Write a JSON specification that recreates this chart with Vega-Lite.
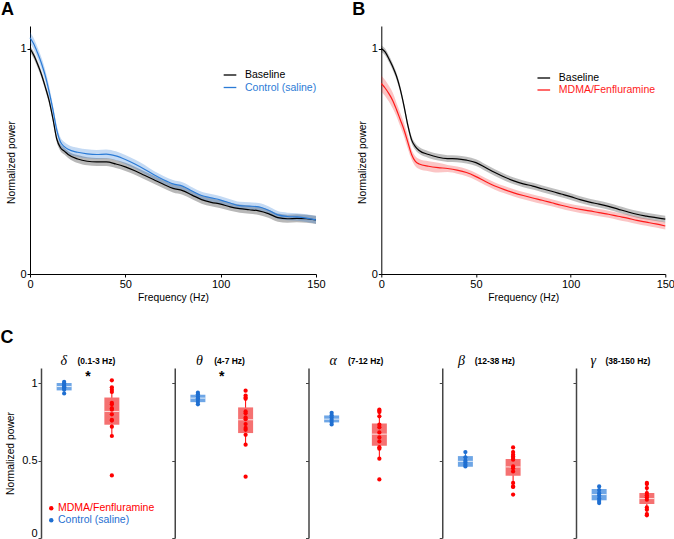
{
  "$schema": "https://vega.github.io/schema/vega-lite/v6.json",
  "background": "white",
  "padding": {"left": 0, "top": 1, "right": 0, "bottom": 0},
  "config": {
    "view": {"stroke": null},
    "font": "Liberation Sans",
    "axis": {"grid": false, "labelFontSize": 11, "titleFontSize": 10.3, "titleFontWeight": "normal", "tickSize": 3, "labelColor": "#000", "titleColor": "#000", "domainColor": "#000", "tickColor": "#000", "labelPadding": 1, "titlePadding": 3, "labelFlush": false, "format": "~f"},
    "legend": {"orient": "none", "title": null, "labelFontSize": 10.5, "padding": 0, "rowPadding": 0, "symbolOpacity": 1},
    "title": {"font": "Liberation Sans", "fontSize": 18, "fontWeight": "bold", "anchor": "start", "frame": "bounds", "baseline": "alphabetic", "color": "#000"}
  },
  "datasets": {
    "spectra": [
      {"p":"A","c":"Baseline","f":0,"m":1.000,"lo":0.985,"hi":1.015},
      {"p":"A","c":"Baseline","f":2,"m":0.970,"lo":0.955,"hi":0.985},
      {"p":"A","c":"Baseline","f":4,"m":0.930,"lo":0.915,"hi":0.945},
      {"p":"A","c":"Baseline","f":6,"m":0.885,"lo":0.870,"hi":0.900},
      {"p":"A","c":"Baseline","f":8,"m":0.830,"lo":0.815,"hi":0.845},
      {"p":"A","c":"Baseline","f":10,"m":0.770,"lo":0.755,"hi":0.785},
      {"p":"A","c":"Baseline","f":12,"m":0.690,"lo":0.675,"hi":0.705},
      {"p":"A","c":"Baseline","f":14,"m":0.600,"lo":0.585,"hi":0.615},
      {"p":"A","c":"Baseline","f":16,"m":0.560,"lo":0.545,"hi":0.575},
      {"p":"A","c":"Baseline","f":18,"m":0.545,"lo":0.530,"hi":0.560},
      {"p":"A","c":"Baseline","f":20,"m":0.530,"lo":0.515,"hi":0.545},
      {"p":"A","c":"Baseline","f":25,"m":0.510,"lo":0.492,"hi":0.528},
      {"p":"A","c":"Baseline","f":30,"m":0.500,"lo":0.482,"hi":0.518},
      {"p":"A","c":"Baseline","f":35,"m":0.497,"lo":0.479,"hi":0.515},
      {"p":"A","c":"Baseline","f":40,"m":0.497,"lo":0.479,"hi":0.515},
      {"p":"A","c":"Baseline","f":45,"m":0.488,"lo":0.470,"hi":0.506},
      {"p":"A","c":"Baseline","f":50,"m":0.475,"lo":0.457,"hi":0.493},
      {"p":"A","c":"Baseline","f":55,"m":0.458,"lo":0.440,"hi":0.476},
      {"p":"A","c":"Baseline","f":60,"m":0.438,"lo":0.420,"hi":0.456},
      {"p":"A","c":"Baseline","f":65,"m":0.418,"lo":0.400,"hi":0.436},
      {"p":"A","c":"Baseline","f":70,"m":0.398,"lo":0.380,"hi":0.416},
      {"p":"A","c":"Baseline","f":75,"m":0.380,"lo":0.362,"hi":0.398},
      {"p":"A","c":"Baseline","f":80,"m":0.370,"lo":0.352,"hi":0.388},
      {"p":"A","c":"Baseline","f":85,"m":0.350,"lo":0.332,"hi":0.368},
      {"p":"A","c":"Baseline","f":90,"m":0.330,"lo":0.312,"hi":0.348},
      {"p":"A","c":"Baseline","f":95,"m":0.318,"lo":0.300,"hi":0.336},
      {"p":"A","c":"Baseline","f":100,"m":0.310,"lo":0.292,"hi":0.328},
      {"p":"A","c":"Baseline","f":105,"m":0.298,"lo":0.280,"hi":0.316},
      {"p":"A","c":"Baseline","f":110,"m":0.290,"lo":0.272,"hi":0.308},
      {"p":"A","c":"Baseline","f":115,"m":0.285,"lo":0.267,"hi":0.303},
      {"p":"A","c":"Baseline","f":120,"m":0.280,"lo":0.262,"hi":0.298},
      {"p":"A","c":"Baseline","f":125,"m":0.268,"lo":0.250,"hi":0.286},
      {"p":"A","c":"Baseline","f":130,"m":0.250,"lo":0.232,"hi":0.268},
      {"p":"A","c":"Baseline","f":135,"m":0.245,"lo":0.227,"hi":0.263},
      {"p":"A","c":"Baseline","f":140,"m":0.247,"lo":0.229,"hi":0.265},
      {"p":"A","c":"Baseline","f":145,"m":0.245,"lo":0.227,"hi":0.263},
      {"p":"A","c":"Baseline","f":150,"m":0.240,"lo":0.222,"hi":0.258},
      {"p":"A","c":"Control (saline)","f":0,"m":1.048,"lo":1.023,"hi":1.073},
      {"p":"A","c":"Control (saline)","f":2,"m":1.020,"lo":0.995,"hi":1.045},
      {"p":"A","c":"Control (saline)","f":4,"m":0.980,"lo":0.955,"hi":1.005},
      {"p":"A","c":"Control (saline)","f":6,"m":0.935,"lo":0.910,"hi":0.960},
      {"p":"A","c":"Control (saline)","f":8,"m":0.880,"lo":0.855,"hi":0.905},
      {"p":"A","c":"Control (saline)","f":10,"m":0.810,"lo":0.785,"hi":0.835},
      {"p":"A","c":"Control (saline)","f":12,"m":0.730,"lo":0.710,"hi":0.750},
      {"p":"A","c":"Control (saline)","f":14,"m":0.640,"lo":0.620,"hi":0.660},
      {"p":"A","c":"Control (saline)","f":16,"m":0.585,"lo":0.565,"hi":0.605},
      {"p":"A","c":"Control (saline)","f":18,"m":0.565,"lo":0.545,"hi":0.585},
      {"p":"A","c":"Control (saline)","f":20,"m":0.553,"lo":0.533,"hi":0.573},
      {"p":"A","c":"Control (saline)","f":25,"m":0.540,"lo":0.520,"hi":0.560},
      {"p":"A","c":"Control (saline)","f":30,"m":0.533,"lo":0.513,"hi":0.553},
      {"p":"A","c":"Control (saline)","f":35,"m":0.530,"lo":0.510,"hi":0.550},
      {"p":"A","c":"Control (saline)","f":40,"m":0.532,"lo":0.512,"hi":0.552},
      {"p":"A","c":"Control (saline)","f":45,"m":0.524,"lo":0.504,"hi":0.544},
      {"p":"A","c":"Control (saline)","f":50,"m":0.508,"lo":0.488,"hi":0.528},
      {"p":"A","c":"Control (saline)","f":55,"m":0.488,"lo":0.468,"hi":0.508},
      {"p":"A","c":"Control (saline)","f":60,"m":0.465,"lo":0.445,"hi":0.485},
      {"p":"A","c":"Control (saline)","f":65,"m":0.440,"lo":0.423,"hi":0.457},
      {"p":"A","c":"Control (saline)","f":70,"m":0.418,"lo":0.401,"hi":0.435},
      {"p":"A","c":"Control (saline)","f":75,"m":0.400,"lo":0.383,"hi":0.417},
      {"p":"A","c":"Control (saline)","f":80,"m":0.390,"lo":0.373,"hi":0.407},
      {"p":"A","c":"Control (saline)","f":85,"m":0.368,"lo":0.351,"hi":0.385},
      {"p":"A","c":"Control (saline)","f":90,"m":0.348,"lo":0.331,"hi":0.365},
      {"p":"A","c":"Control (saline)","f":95,"m":0.338,"lo":0.321,"hi":0.355},
      {"p":"A","c":"Control (saline)","f":100,"m":0.328,"lo":0.311,"hi":0.345},
      {"p":"A","c":"Control (saline)","f":105,"m":0.315,"lo":0.298,"hi":0.332},
      {"p":"A","c":"Control (saline)","f":110,"m":0.303,"lo":0.286,"hi":0.320},
      {"p":"A","c":"Control (saline)","f":115,"m":0.301,"lo":0.284,"hi":0.318},
      {"p":"A","c":"Control (saline)","f":120,"m":0.298,"lo":0.281,"hi":0.315},
      {"p":"A","c":"Control (saline)","f":125,"m":0.283,"lo":0.266,"hi":0.300},
      {"p":"A","c":"Control (saline)","f":130,"m":0.262,"lo":0.245,"hi":0.279},
      {"p":"A","c":"Control (saline)","f":135,"m":0.255,"lo":0.238,"hi":0.272},
      {"p":"A","c":"Control (saline)","f":140,"m":0.253,"lo":0.236,"hi":0.270},
      {"p":"A","c":"Control (saline)","f":145,"m":0.248,"lo":0.231,"hi":0.265},
      {"p":"A","c":"Control (saline)","f":150,"m":0.240,"lo":0.223,"hi":0.257},
      {"p":"B","c":"Baseline","f":0,"m":1.000,"lo":0.985,"hi":1.015},
      {"p":"B","c":"Baseline","f":2,"m":0.985,"lo":0.970,"hi":1.000},
      {"p":"B","c":"Baseline","f":4,"m":0.955,"lo":0.940,"hi":0.970},
      {"p":"B","c":"Baseline","f":6,"m":0.920,"lo":0.905,"hi":0.935},
      {"p":"B","c":"Baseline","f":8,"m":0.878,"lo":0.863,"hi":0.893},
      {"p":"B","c":"Baseline","f":10,"m":0.820,"lo":0.805,"hi":0.835},
      {"p":"B","c":"Baseline","f":12,"m":0.745,"lo":0.730,"hi":0.760},
      {"p":"B","c":"Baseline","f":14,"m":0.660,"lo":0.645,"hi":0.675},
      {"p":"B","c":"Baseline","f":16,"m":0.595,"lo":0.580,"hi":0.610},
      {"p":"B","c":"Baseline","f":18,"m":0.565,"lo":0.550,"hi":0.580},
      {"p":"B","c":"Baseline","f":20,"m":0.548,"lo":0.533,"hi":0.563},
      {"p":"B","c":"Baseline","f":25,"m":0.530,"lo":0.515,"hi":0.545},
      {"p":"B","c":"Baseline","f":30,"m":0.518,"lo":0.503,"hi":0.533},
      {"p":"B","c":"Baseline","f":35,"m":0.512,"lo":0.497,"hi":0.527},
      {"p":"B","c":"Baseline","f":40,"m":0.511,"lo":0.496,"hi":0.526},
      {"p":"B","c":"Baseline","f":45,"m":0.505,"lo":0.490,"hi":0.520},
      {"p":"B","c":"Baseline","f":50,"m":0.494,"lo":0.479,"hi":0.509},
      {"p":"B","c":"Baseline","f":55,"m":0.472,"lo":0.457,"hi":0.487},
      {"p":"B","c":"Baseline","f":60,"m":0.450,"lo":0.435,"hi":0.465},
      {"p":"B","c":"Baseline","f":65,"m":0.430,"lo":0.415,"hi":0.445},
      {"p":"B","c":"Baseline","f":70,"m":0.413,"lo":0.398,"hi":0.428},
      {"p":"B","c":"Baseline","f":75,"m":0.400,"lo":0.385,"hi":0.415},
      {"p":"B","c":"Baseline","f":80,"m":0.390,"lo":0.375,"hi":0.405},
      {"p":"B","c":"Baseline","f":85,"m":0.378,"lo":0.363,"hi":0.393},
      {"p":"B","c":"Baseline","f":90,"m":0.367,"lo":0.352,"hi":0.382},
      {"p":"B","c":"Baseline","f":95,"m":0.355,"lo":0.340,"hi":0.370},
      {"p":"B","c":"Baseline","f":100,"m":0.343,"lo":0.328,"hi":0.358},
      {"p":"B","c":"Baseline","f":105,"m":0.330,"lo":0.315,"hi":0.345},
      {"p":"B","c":"Baseline","f":110,"m":0.319,"lo":0.304,"hi":0.334},
      {"p":"B","c":"Baseline","f":115,"m":0.310,"lo":0.295,"hi":0.325},
      {"p":"B","c":"Baseline","f":120,"m":0.300,"lo":0.285,"hi":0.315},
      {"p":"B","c":"Baseline","f":125,"m":0.288,"lo":0.273,"hi":0.303},
      {"p":"B","c":"Baseline","f":130,"m":0.276,"lo":0.261,"hi":0.291},
      {"p":"B","c":"Baseline","f":135,"m":0.265,"lo":0.250,"hi":0.280},
      {"p":"B","c":"Baseline","f":140,"m":0.257,"lo":0.242,"hi":0.272},
      {"p":"B","c":"Baseline","f":145,"m":0.250,"lo":0.235,"hi":0.265},
      {"p":"B","c":"Baseline","f":150,"m":0.243,"lo":0.228,"hi":0.258},
      {"p":"B","c":"MDMA/Fenfluramine","f":0,"m":0.845,"lo":0.810,"hi":0.880},
      {"p":"B","c":"MDMA/Fenfluramine","f":2,"m":0.825,"lo":0.790,"hi":0.860},
      {"p":"B","c":"MDMA/Fenfluramine","f":4,"m":0.800,"lo":0.765,"hi":0.835},
      {"p":"B","c":"MDMA/Fenfluramine","f":6,"m":0.770,"lo":0.735,"hi":0.805},
      {"p":"B","c":"MDMA/Fenfluramine","f":8,"m":0.730,"lo":0.700,"hi":0.760},
      {"p":"B","c":"MDMA/Fenfluramine","f":10,"m":0.685,"lo":0.655,"hi":0.715},
      {"p":"B","c":"MDMA/Fenfluramine","f":12,"m":0.640,"lo":0.610,"hi":0.670},
      {"p":"B","c":"MDMA/Fenfluramine","f":14,"m":0.585,"lo":0.555,"hi":0.615},
      {"p":"B","c":"MDMA/Fenfluramine","f":16,"m":0.530,"lo":0.508,"hi":0.552},
      {"p":"B","c":"MDMA/Fenfluramine","f":18,"m":0.500,"lo":0.478,"hi":0.522},
      {"p":"B","c":"MDMA/Fenfluramine","f":20,"m":0.488,"lo":0.466,"hi":0.510},
      {"p":"B","c":"MDMA/Fenfluramine","f":25,"m":0.478,"lo":0.456,"hi":0.500},
      {"p":"B","c":"MDMA/Fenfluramine","f":30,"m":0.472,"lo":0.450,"hi":0.494},
      {"p":"B","c":"MDMA/Fenfluramine","f":35,"m":0.468,"lo":0.452,"hi":0.484},
      {"p":"B","c":"MDMA/Fenfluramine","f":40,"m":0.461,"lo":0.445,"hi":0.477},
      {"p":"B","c":"MDMA/Fenfluramine","f":45,"m":0.450,"lo":0.434,"hi":0.466},
      {"p":"B","c":"MDMA/Fenfluramine","f":50,"m":0.432,"lo":0.416,"hi":0.448},
      {"p":"B","c":"MDMA/Fenfluramine","f":55,"m":0.410,"lo":0.394,"hi":0.426},
      {"p":"B","c":"MDMA/Fenfluramine","f":60,"m":0.390,"lo":0.374,"hi":0.406},
      {"p":"B","c":"MDMA/Fenfluramine","f":65,"m":0.374,"lo":0.358,"hi":0.390},
      {"p":"B","c":"MDMA/Fenfluramine","f":70,"m":0.360,"lo":0.344,"hi":0.376},
      {"p":"B","c":"MDMA/Fenfluramine","f":75,"m":0.348,"lo":0.332,"hi":0.364},
      {"p":"B","c":"MDMA/Fenfluramine","f":80,"m":0.337,"lo":0.321,"hi":0.353},
      {"p":"B","c":"MDMA/Fenfluramine","f":85,"m":0.327,"lo":0.311,"hi":0.343},
      {"p":"B","c":"MDMA/Fenfluramine","f":90,"m":0.316,"lo":0.300,"hi":0.332},
      {"p":"B","c":"MDMA/Fenfluramine","f":95,"m":0.305,"lo":0.289,"hi":0.321},
      {"p":"B","c":"MDMA/Fenfluramine","f":100,"m":0.295,"lo":0.279,"hi":0.311},
      {"p":"B","c":"MDMA/Fenfluramine","f":105,"m":0.287,"lo":0.271,"hi":0.303},
      {"p":"B","c":"MDMA/Fenfluramine","f":110,"m":0.280,"lo":0.264,"hi":0.296},
      {"p":"B","c":"MDMA/Fenfluramine","f":115,"m":0.272,"lo":0.256,"hi":0.288},
      {"p":"B","c":"MDMA/Fenfluramine","f":120,"m":0.265,"lo":0.249,"hi":0.281},
      {"p":"B","c":"MDMA/Fenfluramine","f":125,"m":0.256,"lo":0.240,"hi":0.272},
      {"p":"B","c":"MDMA/Fenfluramine","f":130,"m":0.248,"lo":0.232,"hi":0.264},
      {"p":"B","c":"MDMA/Fenfluramine","f":135,"m":0.238,"lo":0.222,"hi":0.254},
      {"p":"B","c":"MDMA/Fenfluramine","f":140,"m":0.230,"lo":0.214,"hi":0.246},
      {"p":"B","c":"MDMA/Fenfluramine","f":145,"m":0.222,"lo":0.206,"hi":0.238},
      {"p":"B","c":"MDMA/Fenfluramine","f":150,"m":0.213,"lo":0.197,"hi":0.229}
    ],
    "dots": [
      {"band":"delta","group":"Control (saline)","v":1.01},
      {"band":"delta","group":"Control (saline)","v":1.0},
      {"band":"delta","group":"Control (saline)","v":0.99},
      {"band":"delta","group":"Control (saline)","v":0.98},
      {"band":"delta","group":"Control (saline)","v":0.975},
      {"band":"delta","group":"Control (saline)","v":0.97},
      {"band":"delta","group":"Control (saline)","v":0.96},
      {"band":"delta","group":"Control (saline)","v":0.935},
      {"band":"delta","group":"MDMA/Fenfluramine","v":1.02},
      {"band":"delta","group":"MDMA/Fenfluramine","v":0.975},
      {"band":"delta","group":"MDMA/Fenfluramine","v":0.96},
      {"band":"delta","group":"MDMA/Fenfluramine","v":0.945},
      {"band":"delta","group":"MDMA/Fenfluramine","v":0.875},
      {"band":"delta","group":"MDMA/Fenfluramine","v":0.865},
      {"band":"delta","group":"MDMA/Fenfluramine","v":0.84},
      {"band":"delta","group":"MDMA/Fenfluramine","v":0.83},
      {"band":"delta","group":"MDMA/Fenfluramine","v":0.8},
      {"band":"delta","group":"MDMA/Fenfluramine","v":0.765},
      {"band":"delta","group":"MDMA/Fenfluramine","v":0.76},
      {"band":"delta","group":"MDMA/Fenfluramine","v":0.72},
      {"band":"delta","group":"MDMA/Fenfluramine","v":0.66},
      {"band":"delta","group":"MDMA/Fenfluramine","v":0.405},
      {"band":"theta","group":"Control (saline)","v":0.94},
      {"band":"theta","group":"Control (saline)","v":0.93},
      {"band":"theta","group":"Control (saline)","v":0.915},
      {"band":"theta","group":"Control (saline)","v":0.905},
      {"band":"theta","group":"Control (saline)","v":0.895},
      {"band":"theta","group":"Control (saline)","v":0.88},
      {"band":"theta","group":"Control (saline)","v":0.865},
      {"band":"theta","group":"MDMA/Fenfluramine","v":0.953},
      {"band":"theta","group":"MDMA/Fenfluramine","v":0.922},
      {"band":"theta","group":"MDMA/Fenfluramine","v":0.909},
      {"band":"theta","group":"MDMA/Fenfluramine","v":0.901},
      {"band":"theta","group":"MDMA/Fenfluramine","v":0.819},
      {"band":"theta","group":"MDMA/Fenfluramine","v":0.808},
      {"band":"theta","group":"MDMA/Fenfluramine","v":0.78},
      {"band":"theta","group":"MDMA/Fenfluramine","v":0.769},
      {"band":"theta","group":"MDMA/Fenfluramine","v":0.737},
      {"band":"theta","group":"MDMA/Fenfluramine","v":0.712},
      {"band":"theta","group":"MDMA/Fenfluramine","v":0.7},
      {"band":"theta","group":"MDMA/Fenfluramine","v":0.668},
      {"band":"theta","group":"MDMA/Fenfluramine","v":0.604},
      {"band":"theta","group":"MDMA/Fenfluramine","v":0.397},
      {"band":"alpha","group":"Control (saline)","v":0.81},
      {"band":"alpha","group":"Control (saline)","v":0.795},
      {"band":"alpha","group":"Control (saline)","v":0.78},
      {"band":"alpha","group":"Control (saline)","v":0.765},
      {"band":"alpha","group":"Control (saline)","v":0.75},
      {"band":"alpha","group":"Control (saline)","v":0.735},
      {"band":"alpha","group":"MDMA/Fenfluramine","v":0.83},
      {"band":"alpha","group":"MDMA/Fenfluramine","v":0.823},
      {"band":"alpha","group":"MDMA/Fenfluramine","v":0.815},
      {"band":"alpha","group":"MDMA/Fenfluramine","v":0.787},
      {"band":"alpha","group":"MDMA/Fenfluramine","v":0.733},
      {"band":"alpha","group":"MDMA/Fenfluramine","v":0.716},
      {"band":"alpha","group":"MDMA/Fenfluramine","v":0.683},
      {"band":"alpha","group":"MDMA/Fenfluramine","v":0.651},
      {"band":"alpha","group":"MDMA/Fenfluramine","v":0.625},
      {"band":"alpha","group":"MDMA/Fenfluramine","v":0.588},
      {"band":"alpha","group":"MDMA/Fenfluramine","v":0.578},
      {"band":"alpha","group":"MDMA/Fenfluramine","v":0.513},
      {"band":"alpha","group":"MDMA/Fenfluramine","v":0.379},
      {"band":"beta","group":"Control (saline)","v":0.556},
      {"band":"beta","group":"Control (saline)","v":0.522},
      {"band":"beta","group":"Control (saline)","v":0.5},
      {"band":"beta","group":"Control (saline)","v":0.489},
      {"band":"beta","group":"Control (saline)","v":0.474},
      {"band":"beta","group":"Control (saline)","v":0.463},
      {"band":"beta","group":"MDMA/Fenfluramine","v":0.586},
      {"band":"beta","group":"MDMA/Fenfluramine","v":0.556},
      {"band":"beta","group":"MDMA/Fenfluramine","v":0.539},
      {"band":"beta","group":"MDMA/Fenfluramine","v":0.528},
      {"band":"beta","group":"MDMA/Fenfluramine","v":0.517},
      {"band":"beta","group":"MDMA/Fenfluramine","v":0.507},
      {"band":"beta","group":"MDMA/Fenfluramine","v":0.463},
      {"band":"beta","group":"MDMA/Fenfluramine","v":0.452},
      {"band":"beta","group":"MDMA/Fenfluramine","v":0.431},
      {"band":"beta","group":"MDMA/Fenfluramine","v":0.356},
      {"band":"beta","group":"MDMA/Fenfluramine","v":0.334},
      {"band":"beta","group":"MDMA/Fenfluramine","v":0.33},
      {"band":"beta","group":"MDMA/Fenfluramine","v":0.281},
      {"band":"gamma","group":"Control (saline)","v":0.334},
      {"band":"gamma","group":"Control (saline)","v":0.31},
      {"band":"gamma","group":"Control (saline)","v":0.29},
      {"band":"gamma","group":"Control (saline)","v":0.275},
      {"band":"gamma","group":"Control (saline)","v":0.255},
      {"band":"gamma","group":"Control (saline)","v":0.24},
      {"band":"gamma","group":"Control (saline)","v":0.226},
      {"band":"gamma","group":"MDMA/Fenfluramine","v":0.356},
      {"band":"gamma","group":"MDMA/Fenfluramine","v":0.349},
      {"band":"gamma","group":"MDMA/Fenfluramine","v":0.323},
      {"band":"gamma","group":"MDMA/Fenfluramine","v":0.291},
      {"band":"gamma","group":"MDMA/Fenfluramine","v":0.276},
      {"band":"gamma","group":"MDMA/Fenfluramine","v":0.263},
      {"band":"gamma","group":"MDMA/Fenfluramine","v":0.248},
      {"band":"gamma","group":"MDMA/Fenfluramine","v":0.198},
      {"band":"gamma","group":"MDMA/Fenfluramine","v":0.183},
      {"band":"gamma","group":"MDMA/Fenfluramine","v":0.155},
      {"band":"gamma","group":"MDMA/Fenfluramine","v":0.147}
    ],
    "boxes": [
      {"band":"delta","group":"Control (saline)","q1":0.955,"med":0.98,"q3":1.003,"lo":0.935,"hi":1.01},
      {"band":"delta","group":"MDMA/Fenfluramine","q1":0.733,"med":0.819,"q3":0.909,"lo":0.66,"hi":0.96},
      {"band":"theta","group":"Control (saline)","q1":0.879,"med":0.905,"q3":0.927,"lo":0.865,"hi":0.94},
      {"band":"theta","group":"MDMA/Fenfluramine","q1":0.679,"med":0.765,"q3":0.845,"lo":0.604,"hi":0.92},
      {"band":"alpha","group":"Control (saline)","q1":0.748,"med":0.769,"q3":0.793,"lo":0.735,"hi":0.81},
      {"band":"alpha","group":"MDMA/Fenfluramine","q1":0.597,"med":0.672,"q3":0.741,"lo":0.513,"hi":0.83},
      {"band":"beta","group":"Control (saline)","q1":0.461,"med":0.496,"q3":0.53,"lo":0.463,"hi":0.556},
      {"band":"beta","group":"MDMA/Fenfluramine","q1":0.403,"med":0.46,"q3":0.511,"lo":0.334,"hi":0.57},
      {"band":"gamma","group":"Control (saline)","q1":0.244,"med":0.281,"q3":0.317,"lo":0.226,"hi":0.334},
      {"band":"gamma","group":"MDMA/Fenfluramine","q1":0.22,"med":0.255,"q3":0.291,"lo":0.147,"hi":0.356}
    ],
    "sig": [
      {"band":"delta","group":"sig","v":1.04,"label":"*"},
      {"band":"theta","group":"sig","v":1.04,"label":"*"}
    ]
  },
  "resolve": {"scale": {"x": "independent", "y": "independent", "fill": "independent", "stroke": "independent", "color": "independent"}, "legend": {"fill": "independent", "stroke": "independent", "color": "independent"}},
  "spacing": 25,
  "vconcat": [
    {
      "bounds": "flush",
      "spacing": 65.3,
      "resolve": {"scale": {"x": "independent", "y": "independent", "fill": "independent", "stroke": "independent", "color": "independent"}, "legend": {"fill": "independent", "stroke": "independent", "color": "independent"}},
      "hconcat": [
        {
          "width": 286, "height": 248,
          "title": {"text": "A", "dx": -5, "offset": 7},
          "data": {"name": "spectra"},
          "transform": [{"filter": "datum.p == 'A'"}],
          "encoding": {"x": {"field": "f", "type": "quantitative", "scale": {"domain": [0, 150], "nice": false}, "axis": {"values": [0, 50, 100, 150], "title": "Frequency (Hz)"}}},
          "layer": [
            {"mark": {"type": "area", "interpolate": "monotone", "opacity": 0.28},
             "encoding": {
               "y": {"field": "lo", "type": "quantitative", "scale": {"domain": [0, 1.1], "nice": false}, "axis": {"values": [0, 1], "title": "Normalized power", "titleX": -16, "titleY": 136, "titleBaseline": "alphabetic", "titleAngle": -90, "titleAlign": "center"}},
               "y2": {"field": "hi"},
               "fill": {"field": "c", "type": "nominal", "scale": {"domain": ["Baseline", "Control (saline)"], "range": ["#000000", "#2b7bd6"]}, "legend": null}}},
            {"transform": [{"filter": "datum.c == 'Baseline'"}],
             "mark": {"type": "line", "interpolate": "monotone", "strokeWidth": 1.2},
             "encoding": {
               "y": {"field": "m", "type": "quantitative", "scale": {"domain": [0, 1.1], "nice": false}, "axis": {"values": [0, 1], "title": "Normalized power", "titleX": -16, "titleY": 136, "titleBaseline": "alphabetic", "titleAngle": -90, "titleAlign": "center"}},
               "stroke": {"field": "c", "type": "nominal", "scale": {"domain": ["Baseline"], "range": ["#000000"]},
                 "legend": {"orient": "none", "legendX": 193, "legendY": 42, "symbolType": "stroke", "symbolSize": 160, "symbolStrokeWidth": 1.3, "labelOffset": 8, "labelColor": "#000000"}}}},
            {"transform": [{"filter": "datum.c == 'Control (saline)'"}],
             "mark": {"type": "line", "interpolate": "monotone", "strokeWidth": 1.2},
             "encoding": {
               "y": {"field": "m", "type": "quantitative", "scale": {"domain": [0, 1.1], "nice": false}, "axis": {"values": [0, 1], "title": "Normalized power", "titleX": -16, "titleY": 136, "titleBaseline": "alphabetic", "titleAngle": -90, "titleAlign": "center"}},
               "color": {"field": "c", "type": "nominal", "scale": {"domain": ["Control (saline)"], "range": ["#2b7bd6"]},
                 "legend": {"orient": "none", "legendX": 193, "legendY": 54.5, "symbolType": "stroke", "symbolSize": 160, "symbolStrokeWidth": 1.3, "labelOffset": 8, "labelColor": "#2b7bd6"}}}}
          ]
        },
        {
          "width": 284, "height": 248,
          "title": {"text": "B", "dx": -5, "offset": 7},
          "data": {"name": "spectra"},
          "transform": [{"filter": "datum.p == 'B'"}],
          "encoding": {"x": {"field": "f", "type": "quantitative", "scale": {"domain": [0, 150], "nice": false}, "axis": {"values": [0, 50, 100, 150], "title": "Frequency (Hz)"}}},
          "layer": [
            {"mark": {"type": "area", "interpolate": "monotone", "opacity": 0.25},
             "encoding": {
               "y": {"field": "lo", "type": "quantitative", "scale": {"domain": [0, 1.1], "nice": false}, "axis": {"values": [0, 1], "title": "Normalized power", "titleX": -16, "titleY": 136, "titleBaseline": "alphabetic", "titleAngle": -90, "titleAlign": "center"}},
               "y2": {"field": "hi"},
               "fill": {"field": "c", "type": "nominal", "scale": {"domain": ["Baseline", "MDMA/Fenfluramine"], "range": ["#000000", "#f01818"]}, "legend": null}}},
            {"transform": [{"filter": "datum.c == 'Baseline'"}],
             "mark": {"type": "line", "interpolate": "monotone", "strokeWidth": 1.2},
             "encoding": {
               "y": {"field": "m", "type": "quantitative", "scale": {"domain": [0, 1.1], "nice": false}, "axis": {"values": [0, 1], "title": "Normalized power", "titleX": -16, "titleY": 136, "titleBaseline": "alphabetic", "titleAngle": -90, "titleAlign": "center"}},
               "stroke": {"field": "c", "type": "nominal", "scale": {"domain": ["Baseline"], "range": ["#000000"]},
                 "legend": {"orient": "none", "legendX": 155.5, "legendY": 45, "symbolType": "stroke", "symbolSize": 160, "symbolStrokeWidth": 1.3, "labelOffset": 8, "labelColor": "#000000"}}}},
            {"transform": [{"filter": "datum.c == 'MDMA/Fenfluramine'"}],
             "mark": {"type": "line", "interpolate": "monotone", "strokeWidth": 1.2},
             "encoding": {
               "y": {"field": "m", "type": "quantitative", "scale": {"domain": [0, 1.1], "nice": false}, "axis": {"values": [0, 1], "title": "Normalized power", "titleX": -16, "titleY": 136, "titleBaseline": "alphabetic", "titleAngle": -90, "titleAlign": "center"}},
               "color": {"field": "c", "type": "nominal", "scale": {"domain": ["MDMA/Fenfluramine"], "range": ["#ff1a1a"]},
                 "legend": {"orient": "none", "legendX": 155.5, "legendY": 57, "symbolType": "stroke", "symbolSize": 160, "symbolStrokeWidth": 1.3, "labelOffset": 8, "labelColor": "#ff1a1a"}}}}
          ]
        }
      ]
    },
    {
      "bounds": "flush",
      "spacing": 10,
      "resolve": {"scale": {"color": "independent", "fill": "independent", "stroke": "independent"}, "legend": {"color": "independent", "fill": "independent", "stroke": "independent"}},
      "hconcat": [
        {"width": 1, "height": 1, "data": {"values": [{"z": 0}]}, "mark": {"type": "point", "opacity": 0}},
        {
          "bounds": "flush",
          "spacing": 39.75,
          "title": {"text": "C", "dx": -5, "offset": 6.5},
          "resolve": {"scale": {"x": "independent", "y": "independent", "color": "independent", "fill": "independent", "stroke": "independent"}, "legend": {"color": "independent", "fill": "independent", "stroke": "independent"}},
          "hconcat": [
            {
              "width": 94, "height": 170,
              "encoding": {"x": {"field": "group", "type": "nominal", "scale": {"type": "point", "domain": ["Control (saline)", "sig", "MDMA/Fenfluramine"], "padding": 0.97},
                "axis": {"orient": "top", "domain": false, "ticks": false, "labelAngle": 0, "labelExpr": "datum.value == 'Control (saline)' ? 'δ' : ''", "labelFont": "Liberation Serif", "labelFontStyle": "italic", "labelFontSize": 14, "labelPadding": 1, "labelOffset": -1, "labelOverlap": false, "title": "(0.1-3 Hz)", "titleFontSize": 8.5, "titleFontWeight": "bold", "titleX": 36, "titleY": -5, "titleAlign": "left", "titleBaseline": "alphabetic"}}},
              "layer": [
                {"data": {"name": "boxes"}, "transform": [{"filter": "datum.band == 'delta'"}], "mark": {"type": "rule", "strokeWidth": 1},
                 "encoding": {"y": {"field": "lo", "type": "quantitative", "scale": {"domain": [0, 1.1], "nice": false}, "axis": {"values": [0, 0.5, 1], "title": "Normalized power", "titleX": -27.5, "titleBaseline": "alphabetic", "domainColor": "#444", "tickColor": "#444", "domainWidth": 1.5, "labelFlush": true, "labelFlushOffset": 0}}, "y2": {"field": "hi"},
                   "stroke": {"field": "group", "type": "nominal", "scale": {"domain": ["MDMA/Fenfluramine", "Control (saline)"], "range": ["#ff0000", "#1f6fd1"]}, "legend": null}}},
                {"data": {"name": "boxes"}, "transform": [{"filter": "datum.band == 'delta' && datum.group == 'MDMA/Fenfluramine'"}], "mark": {"type": "bar", "width": 15, "color": "#f57171"},
                 "encoding": {"y": {"field": "q1", "type": "quantitative", "scale": {"domain": [0, 1.1], "nice": false}, "axis": {"values": [0, 0.5, 1], "title": "Normalized power", "titleX": -27.5, "titleBaseline": "alphabetic", "domainColor": "#444", "tickColor": "#444", "domainWidth": 1.5, "labelFlush": true, "labelFlushOffset": 0}}, "y2": {"field": "q3"}}},
                {"data": {"name": "boxes"}, "transform": [{"filter": "datum.band == 'delta' && datum.group == 'Control (saline)'"}], "mark": {"type": "bar", "width": 15, "color": "#6ea6e6"},
                 "encoding": {"y": {"field": "q1", "type": "quantitative", "scale": {"domain": [0, 1.1], "nice": false}, "axis": {"values": [0, 0.5, 1], "title": "Normalized power", "titleX": -27.5, "titleBaseline": "alphabetic", "domainColor": "#444", "tickColor": "#444", "domainWidth": 1.5, "labelFlush": true, "labelFlushOffset": 0}}, "y2": {"field": "q3"}}},
                {"data": {"name": "boxes"}, "transform": [{"filter": "datum.band == 'delta'"}], "mark": {"type": "tick", "color": "#ffffff", "thickness": 1, "size": 15, "opacity": 0.8},
                 "encoding": {"y": {"field": "med", "type": "quantitative", "scale": {"domain": [0, 1.1], "nice": false}, "axis": {"values": [0, 0.5, 1], "title": "Normalized power", "titleX": -27.5, "titleBaseline": "alphabetic", "domainColor": "#444", "tickColor": "#444", "domainWidth": 1.5, "labelFlush": true, "labelFlushOffset": 0}}}},
                {"data": {"name": "dots"}, "transform": [{"filter": "datum.band == 'delta' && datum.group == 'MDMA/Fenfluramine'"}], "mark": {"type": "circle", "size": 18, "opacity": 1},
                 "encoding": {"y": {"field": "v", "type": "quantitative", "scale": {"domain": [0, 1.1], "nice": false}, "axis": {"values": [0, 0.5, 1], "title": "Normalized power", "titleX": -27.5, "titleBaseline": "alphabetic", "domainColor": "#444", "tickColor": "#444", "domainWidth": 1.5, "labelFlush": true, "labelFlushOffset": 0}},
                   "color": {"field": "group", "type": "nominal", "scale": {"domain": ["MDMA/Fenfluramine"], "range": ["#ff0000"]},
                     "legend": {"orient": "none", "legendX": 5, "legendY": 135, "symbolType": "circle", "symbolSize": 20, "labelOffset": 1.5, "labelColor": "#ff0000"}}}},
                {"data": {"name": "dots"}, "transform": [{"filter": "datum.band == 'delta' && datum.group == 'Control (saline)'"}], "mark": {"type": "circle", "size": 18, "opacity": 1},
                 "encoding": {"y": {"field": "v", "type": "quantitative", "scale": {"domain": [0, 1.1], "nice": false}, "axis": {"values": [0, 0.5, 1], "title": "Normalized power", "titleX": -27.5, "titleBaseline": "alphabetic", "domainColor": "#444", "tickColor": "#444", "domainWidth": 1.5, "labelFlush": true, "labelFlushOffset": 0}},
                   "fill": {"field": "group", "type": "nominal", "scale": {"domain": ["Control (saline)"], "range": ["#1f6fd1"]},
                     "legend": {"orient": "none", "legendX": 5, "legendY": 147, "symbolType": "circle", "symbolSize": 20, "labelOffset": 1.5, "labelColor": "#1f6fd1"}}}},
                {"data": {"name": "sig"}, "transform": [{"filter": "datum.band == 'delta'"}], "mark": {"type": "text", "fontSize": 14, "fontWeight": "bold", "baseline": "middle"},
                 "encoding": {"y": {"field": "v", "type": "quantitative", "scale": {"domain": [0, 1.1], "nice": false}, "axis": {"values": [0, 0.5, 1], "title": "Normalized power", "titleX": -27.5, "titleBaseline": "alphabetic", "domainColor": "#444", "tickColor": "#444", "domainWidth": 1.5, "labelFlush": true, "labelFlushOffset": 0}}, "text": {"field": "label"}}}
              ]
            },
            {
              "width": 94, "height": 170,
              "encoding": {"x": {"field": "group", "type": "nominal", "scale": {"type": "point", "domain": ["Control (saline)", "sig", "MDMA/Fenfluramine"], "padding": 0.97},
                "axis": {"orient": "top", "domain": false, "ticks": false, "labelAngle": 0, "labelExpr": "datum.value == 'Control (saline)' ? 'θ' : ''", "labelFont": "Liberation Serif", "labelFontStyle": "italic", "labelFontSize": 14, "labelPadding": 1, "labelOffset": 1, "labelOverlap": false, "title": "(4-7 Hz)", "titleFontSize": 8.5, "titleFontWeight": "bold", "titleX": 39, "titleY": -5, "titleAlign": "left", "titleBaseline": "alphabetic"}}},
              "layer": [
                {"data": {"name": "boxes"}, "transform": [{"filter": "datum.band == 'theta'"}], "mark": {"type": "rule", "strokeWidth": 1},
                 "encoding": {"y": {"field": "lo", "type": "quantitative", "scale": {"domain": [0, 1.1], "nice": false}, "axis": {"values": [0, 0.5, 1], "labels": false, "title": null, "domainColor": "#444", "tickColor": "#444", "domainWidth": 1.5}}, "y2": {"field": "hi"},
                   "color": {"field": "group", "type": "nominal", "scale": {"domain": ["MDMA/Fenfluramine", "Control (saline)"], "range": ["#ff0000", "#1f6fd1"]}, "legend": null}}},
                {"data": {"name": "boxes"}, "transform": [{"filter": "datum.band == 'theta'"}], "mark": {"type": "bar", "width": 15},
                 "encoding": {"y": {"field": "q1", "type": "quantitative", "scale": {"domain": [0, 1.1], "nice": false}, "axis": {"values": [0, 0.5, 1], "labels": false, "title": null, "domainColor": "#444", "tickColor": "#444", "domainWidth": 1.5}}, "y2": {"field": "q3"},
                   "fill": {"field": "group", "type": "nominal", "scale": {"domain": ["MDMA/Fenfluramine", "Control (saline)"], "range": ["#f57171", "#6ea6e6"]}, "legend": null}}},
                {"data": {"name": "boxes"}, "transform": [{"filter": "datum.band == 'theta'"}], "mark": {"type": "tick", "color": "#ffffff", "thickness": 1, "size": 15, "opacity": 0.8},
                 "encoding": {"y": {"field": "med", "type": "quantitative", "scale": {"domain": [0, 1.1], "nice": false}, "axis": {"values": [0, 0.5, 1], "labels": false, "title": null, "domainColor": "#444", "tickColor": "#444", "domainWidth": 1.5}}}},
                {"data": {"name": "dots"}, "transform": [{"filter": "datum.band == 'theta'"}], "mark": {"type": "circle", "size": 18, "opacity": 1},
                 "encoding": {"y": {"field": "v", "type": "quantitative", "scale": {"domain": [0, 1.1], "nice": false}, "axis": {"values": [0, 0.5, 1], "labels": false, "title": null, "domainColor": "#444", "tickColor": "#444", "domainWidth": 1.5}},
                   "color": {"field": "group", "type": "nominal", "scale": {"domain": ["MDMA/Fenfluramine", "Control (saline)"], "range": ["#ff0000", "#1f6fd1"]}, "legend": null}}},
                {"data": {"name": "sig"}, "transform": [{"filter": "datum.band == 'theta'"}], "mark": {"type": "text", "fontSize": 14, "fontWeight": "bold", "baseline": "middle"},
                 "encoding": {"y": {"field": "v", "type": "quantitative", "scale": {"domain": [0, 1.1], "nice": false}, "axis": {"values": [0, 0.5, 1], "labels": false, "title": null, "domainColor": "#444", "tickColor": "#444", "domainWidth": 1.5}}, "text": {"field": "label"}}}
              ]
            },
            {
              "width": 94, "height": 170,
              "encoding": {"x": {"field": "group", "type": "nominal", "scale": {"type": "point", "domain": ["Control (saline)", "sig", "MDMA/Fenfluramine"], "padding": 0.97},
                "axis": {"orient": "top", "domain": false, "ticks": false, "labelAngle": 0, "labelExpr": "datum.value == 'Control (saline)' ? 'α' : ''", "labelFont": "Liberation Serif", "labelFontStyle": "italic", "labelFontSize": 14, "labelPadding": 1, "labelOffset": 1, "labelOverlap": false, "title": "(7-12 Hz)", "titleFontSize": 8.5, "titleFontWeight": "bold", "titleX": 39, "titleY": -5, "titleAlign": "left", "titleBaseline": "alphabetic"}}},
              "layer": [
                {"data": {"name": "boxes"}, "transform": [{"filter": "datum.band == 'alpha'"}], "mark": {"type": "rule", "strokeWidth": 1},
                 "encoding": {"y": {"field": "lo", "type": "quantitative", "scale": {"domain": [0, 1.1], "nice": false}, "axis": {"values": [0, 0.5, 1], "labels": false, "title": null, "domainColor": "#444", "tickColor": "#444", "domainWidth": 1.5}}, "y2": {"field": "hi"},
                   "color": {"field": "group", "type": "nominal", "scale": {"domain": ["MDMA/Fenfluramine", "Control (saline)"], "range": ["#ff0000", "#1f6fd1"]}, "legend": null}}},
                {"data": {"name": "boxes"}, "transform": [{"filter": "datum.band == 'alpha'"}], "mark": {"type": "bar", "width": 15},
                 "encoding": {"y": {"field": "q1", "type": "quantitative", "scale": {"domain": [0, 1.1], "nice": false}, "axis": {"values": [0, 0.5, 1], "labels": false, "title": null, "domainColor": "#444", "tickColor": "#444", "domainWidth": 1.5}}, "y2": {"field": "q3"},
                   "fill": {"field": "group", "type": "nominal", "scale": {"domain": ["MDMA/Fenfluramine", "Control (saline)"], "range": ["#f57171", "#6ea6e6"]}, "legend": null}}},
                {"data": {"name": "boxes"}, "transform": [{"filter": "datum.band == 'alpha'"}], "mark": {"type": "tick", "color": "#ffffff", "thickness": 1, "size": 15, "opacity": 0.8},
                 "encoding": {"y": {"field": "med", "type": "quantitative", "scale": {"domain": [0, 1.1], "nice": false}, "axis": {"values": [0, 0.5, 1], "labels": false, "title": null, "domainColor": "#444", "tickColor": "#444", "domainWidth": 1.5}}}},
                {"data": {"name": "dots"}, "transform": [{"filter": "datum.band == 'alpha'"}], "mark": {"type": "circle", "size": 18, "opacity": 1},
                 "encoding": {"y": {"field": "v", "type": "quantitative", "scale": {"domain": [0, 1.1], "nice": false}, "axis": {"values": [0, 0.5, 1], "labels": false, "title": null, "domainColor": "#444", "tickColor": "#444", "domainWidth": 1.5}},
                   "color": {"field": "group", "type": "nominal", "scale": {"domain": ["MDMA/Fenfluramine", "Control (saline)"], "range": ["#ff0000", "#1f6fd1"]}, "legend": null}}}
              ]
            },
            {
              "width": 94, "height": 170,
              "encoding": {"x": {"field": "group", "type": "nominal", "scale": {"type": "point", "domain": ["Control (saline)", "sig", "MDMA/Fenfluramine"], "padding": 0.97},
                "axis": {"orient": "top", "domain": false, "ticks": false, "labelAngle": 0, "labelExpr": "datum.value == 'Control (saline)' ? 'β' : ''", "labelFont": "Liberation Serif", "labelFontStyle": "italic", "labelFontSize": 14, "labelPadding": 1, "labelOffset": -4.5, "labelOverlap": false, "title": "(12-38 Hz)", "titleFontSize": 8.5, "titleFontWeight": "bold", "titleX": 32, "titleY": -5, "titleAlign": "left", "titleBaseline": "alphabetic"}}},
              "layer": [
                {"data": {"name": "boxes"}, "transform": [{"filter": "datum.band == 'beta'"}], "mark": {"type": "rule", "strokeWidth": 1},
                 "encoding": {"y": {"field": "lo", "type": "quantitative", "scale": {"domain": [0, 1.1], "nice": false}, "axis": {"values": [0, 0.5, 1], "labels": false, "title": null, "domainColor": "#444", "tickColor": "#444", "domainWidth": 1.5}}, "y2": {"field": "hi"},
                   "color": {"field": "group", "type": "nominal", "scale": {"domain": ["MDMA/Fenfluramine", "Control (saline)"], "range": ["#ff0000", "#1f6fd1"]}, "legend": null}}},
                {"data": {"name": "boxes"}, "transform": [{"filter": "datum.band == 'beta'"}], "mark": {"type": "bar", "width": 15},
                 "encoding": {"y": {"field": "q1", "type": "quantitative", "scale": {"domain": [0, 1.1], "nice": false}, "axis": {"values": [0, 0.5, 1], "labels": false, "title": null, "domainColor": "#444", "tickColor": "#444", "domainWidth": 1.5}}, "y2": {"field": "q3"},
                   "fill": {"field": "group", "type": "nominal", "scale": {"domain": ["MDMA/Fenfluramine", "Control (saline)"], "range": ["#f57171", "#6ea6e6"]}, "legend": null}}},
                {"data": {"name": "boxes"}, "transform": [{"filter": "datum.band == 'beta'"}], "mark": {"type": "tick", "color": "#ffffff", "thickness": 1, "size": 15, "opacity": 0.8},
                 "encoding": {"y": {"field": "med", "type": "quantitative", "scale": {"domain": [0, 1.1], "nice": false}, "axis": {"values": [0, 0.5, 1], "labels": false, "title": null, "domainColor": "#444", "tickColor": "#444", "domainWidth": 1.5}}}},
                {"data": {"name": "dots"}, "transform": [{"filter": "datum.band == 'beta'"}], "mark": {"type": "circle", "size": 18, "opacity": 1},
                 "encoding": {"y": {"field": "v", "type": "quantitative", "scale": {"domain": [0, 1.1], "nice": false}, "axis": {"values": [0, 0.5, 1], "labels": false, "title": null, "domainColor": "#444", "tickColor": "#444", "domainWidth": 1.5}},
                   "color": {"field": "group", "type": "nominal", "scale": {"domain": ["MDMA/Fenfluramine", "Control (saline)"], "range": ["#ff0000", "#1f6fd1"]}, "legend": null}}}
              ]
            },
            {
              "width": 94, "height": 170,
              "encoding": {"x": {"field": "group", "type": "nominal", "scale": {"type": "point", "domain": ["Control (saline)", "sig", "MDMA/Fenfluramine"], "padding": 0.97},
                "axis": {"orient": "top", "domain": false, "ticks": false, "labelAngle": 0, "labelExpr": "datum.value == 'Control (saline)' ? 'γ' : ''", "labelFont": "Liberation Serif", "labelFontStyle": "italic", "labelFontSize": 14, "labelPadding": 1, "labelOffset": -6.5, "labelOverlap": false, "title": "(38-150 Hz)", "titleFontSize": 8.5, "titleFontWeight": "bold", "titleX": 29, "titleY": -5, "titleAlign": "left", "titleBaseline": "alphabetic"}}},
              "layer": [
                {"data": {"name": "boxes"}, "transform": [{"filter": "datum.band == 'gamma'"}], "mark": {"type": "rule", "strokeWidth": 1},
                 "encoding": {"y": {"field": "lo", "type": "quantitative", "scale": {"domain": [0, 1.1], "nice": false}, "axis": {"values": [0, 0.5, 1], "labels": false, "title": null, "domainColor": "#444", "tickColor": "#444", "domainWidth": 1.5}}, "y2": {"field": "hi"},
                   "color": {"field": "group", "type": "nominal", "scale": {"domain": ["MDMA/Fenfluramine", "Control (saline)"], "range": ["#ff0000", "#1f6fd1"]}, "legend": null}}},
                {"data": {"name": "boxes"}, "transform": [{"filter": "datum.band == 'gamma'"}], "mark": {"type": "bar", "width": 15},
                 "encoding": {"y": {"field": "q1", "type": "quantitative", "scale": {"domain": [0, 1.1], "nice": false}, "axis": {"values": [0, 0.5, 1], "labels": false, "title": null, "domainColor": "#444", "tickColor": "#444", "domainWidth": 1.5}}, "y2": {"field": "q3"},
                   "fill": {"field": "group", "type": "nominal", "scale": {"domain": ["MDMA/Fenfluramine", "Control (saline)"], "range": ["#f57171", "#6ea6e6"]}, "legend": null}}},
                {"data": {"name": "boxes"}, "transform": [{"filter": "datum.band == 'gamma'"}], "mark": {"type": "tick", "color": "#ffffff", "thickness": 1, "size": 15, "opacity": 0.8},
                 "encoding": {"y": {"field": "med", "type": "quantitative", "scale": {"domain": [0, 1.1], "nice": false}, "axis": {"values": [0, 0.5, 1], "labels": false, "title": null, "domainColor": "#444", "tickColor": "#444", "domainWidth": 1.5}}}},
                {"data": {"name": "dots"}, "transform": [{"filter": "datum.band == 'gamma'"}], "mark": {"type": "circle", "size": 18, "opacity": 1},
                 "encoding": {"y": {"field": "v", "type": "quantitative", "scale": {"domain": [0, 1.1], "nice": false}, "axis": {"values": [0, 0.5, 1], "labels": false, "title": null, "domainColor": "#444", "tickColor": "#444", "domainWidth": 1.5}},
                   "color": {"field": "group", "type": "nominal", "scale": {"domain": ["MDMA/Fenfluramine", "Control (saline)"], "range": ["#ff0000", "#1f6fd1"]}, "legend": null}}}
              ]
            }
          ]
        }
      ]
    }
  ]
}
